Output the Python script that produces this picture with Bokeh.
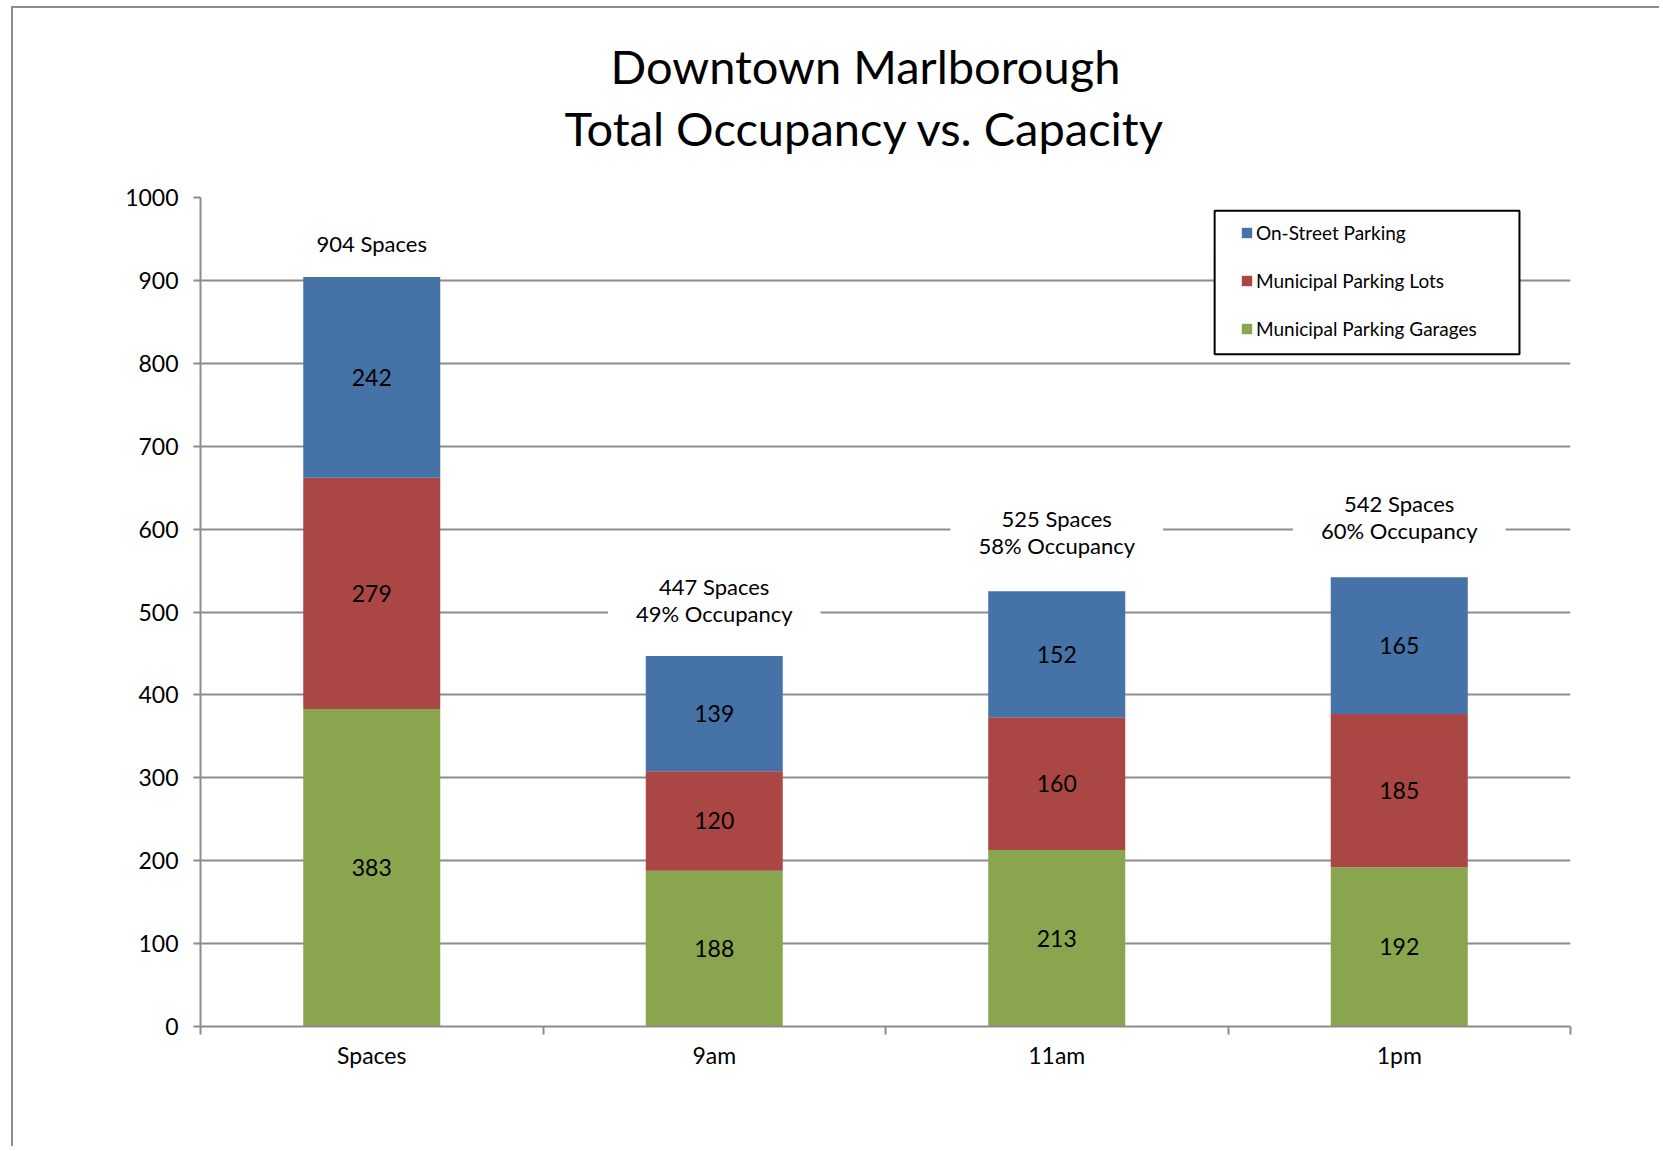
from bokeh.plotting import figure
from bokeh.models import (Range1d, FixedTicker, ColumnDataSource, Legend, LegendItem,
                          Label, BoxAnnotation, Title)
from bokeh.core.properties import value
from bokeh.embed import file_html
from bokeh.resources import INLINE

# ---- data ----
categories = ["Spaces", "9am", "11am", "1pm"]
garages = [383, 188, 213, 192]
lots = [279, 120, 160, 185]
street = [242, 139, 152, 165]
totals = [904, 447, 525, 542]
occupancy = ["", "49% Occupancy", "58% Occupancy", "60% Occupancy"]
series_names = ["On-Street Parking", "Municipal Parking Lots", "Municipal Parking Garages"]
y_ticks = [0, 100, 200, 300, 400, 500, 600, 700, 800, 900, 1000]
title_lines = ["Downtown Marlborough", "Total Occupancy vs. Capacity"]

BLUE = "#4572A7"
RED = "#AA4643"
GREEN = "#89A54E"
GRID = "#8c8c8c"
FONT = "Lato"

xs = [i + 0.5 for i in range(len(categories))]
src = ColumnDataSource(dict(x=xs, garages=garages, lots=lots, street=street))

p = figure(width=1648, height=1140, output_backend="svg", toolbar_location=None,
           x_range=Range1d(0, len(categories)), y_range=Range1d(0, 1000),
           min_border_left=187, min_border_right=91, min_border_top=189, min_border_bottom=122)
p.outline_line_color = None
p.background_fill_color = "white"
p.border_fill_color = "white"
p.styles = {"margin-left": "11px", "margin-top": "6px",
            "border-left": "2px solid #8c8c8c", "border-top": "2px solid #8c8c8c"}

# titles (first added sits nearest the plot)
p.add_layout(Title(text=title_lines[1], text_font=FONT, text_font_size="47px",
                   text_font_style="normal", text_color="black", align="left",
                   standoff=84, offset=364), "above")
p.add_layout(Title(text=title_lines[0], text_font=FONT, text_font_size="47px",
                   text_font_style="normal", text_color="black", align="left",
                   standoff=-76, offset=410), "above")

renderers = p.vbar_stack(["garages", "lots", "street"], x="x", width=0.4,
                         color=[GREEN, RED, BLUE], line_color=None, source=src)

# axes
p.xaxis.ticker = FixedTicker(ticks=xs, minor_ticks=list(range(len(categories) + 1)))
p.xaxis.major_label_overrides = {x: c for x, c in zip(xs, categories)}
p.xaxis.major_tick_out = 0
p.xaxis.major_tick_in = 0
p.xaxis.minor_tick_out = 8
p.xaxis.minor_tick_in = 0
p.xaxis.minor_tick_line_color = GRID
p.xaxis.minor_tick_line_width = 2
p.xaxis.axis_line_color = GRID
p.xaxis.axis_line_width = 2
p.xaxis.major_label_text_font = FONT
p.xaxis.major_label_text_font_size = "23px"
p.xaxis.major_label_text_color = "black"
p.xaxis.major_label_standoff = 6

p.yaxis.ticker = FixedTicker(ticks=y_ticks, minor_ticks=[])
p.yaxis.major_tick_out = 7
p.yaxis.major_tick_in = 0
p.yaxis.major_tick_line_color = GRID
p.yaxis.major_tick_line_width = 2
p.yaxis.axis_line_color = GRID
p.yaxis.axis_line_width = 2
p.yaxis.major_label_text_font = FONT
p.yaxis.major_label_text_font_size = "23px"
p.yaxis.major_label_text_color = "black"
p.yaxis.major_label_standoff = 15

p.xgrid.grid_line_color = None
p.ygrid.grid_line_color = GRID
p.ygrid.grid_line_width = 2
p.ygrid.ticker = FixedTicker(ticks=y_ticks[1:])

# value labels inside bars
mids_x, mids_y, mids_t = [], [], []
for i in range(len(categories)):
    base = 0
    for v in (garages[i], lots[i], street[i]):
        mids_x.append(xs[i])
        mids_y.append(base + v / 2)
        mids_t.append(str(v))
        base += v
p.text(x=mids_x, y=mids_y, text=mids_t, text_font=value(FONT), text_font_size="23px",
       text_align="center", text_baseline="middle", text_color="black")

# total annotations (offset above the bar top, in y units)
label_offsets = [40, 67, 71, 72]
for i in range(len(categories)):
    txt = f"{totals[i]} Spaces" + (f"\n{occupancy[i]}" if occupancy[i] else "")
    p.add_layout(Label(x=xs[i], y=totals[i] + label_offsets[i], text=txt, text_font=FONT,
                       text_font_size="22px", text_align="center", text_baseline="middle",
                       text_color="black", text_line_height=1.0,
                       background_fill_color="white" if occupancy[i] else None,
                       padding=dict(left=28, right=28, top=4, bottom=4)))

# legend box + legend
p.add_layout(BoxAnnotation(left=2.961, right=3.851, bottom=811, top=984,
                           fill_color="white", fill_alpha=1.0, line_color="black",
                           line_alpha=1.0, line_width=2, level="annotation"))
legend = Legend(items=[LegendItem(label=series_names[0], renderers=[renderers[2]]),
                       LegendItem(label=series_names[1], renderers=[renderers[1]]),
                       LegendItem(label=series_names[2], renderers=[renderers[0]])],
                location=(1040, 686), padding=0, margin=0, spacing=25,
                glyph_width=13, glyph_height=13, label_height=20, label_standoff=3,
                label_text_font=FONT, label_text_font_size="19px", label_text_color="black",
                border_line_color=None, background_fill_alpha=0)
p.add_layout(legend, "center")

open("out.html", "w").write(file_html(p, INLINE))
